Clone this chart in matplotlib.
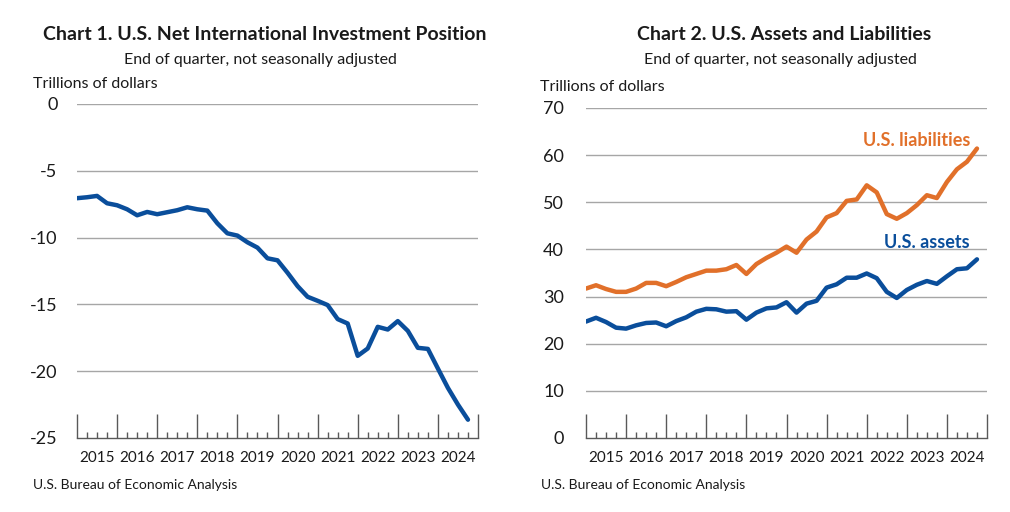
import matplotlib
matplotlib.use("Agg")
import matplotlib.pyplot as plt
import numpy as np

plt.rcParams["font.family"] = ["Lato", "DejaVu Sans"]

# quarterly data, 2015Q1 .. 2024Q4 (trillions of dollars)
years = [str(y) for y in range(2015, 2025)]
niip = [-7.05, -6.98, -6.88, -7.43, -7.58, -7.88, -8.33, -8.08, -8.25, -8.10,
        -7.95, -7.73, -7.88, -7.98, -8.93, -9.68, -9.85, -10.35, -10.75, -11.55,
        -11.70, -12.63, -13.63, -14.43, -14.73, -15.05, -16.10, -16.43, -18.85, -18.30,
        -16.68, -16.88, -16.25, -16.98, -18.25, -18.33, -19.80, -21.25, -22.50, -23.63]
liabilities = [31.7, 32.4, 31.6, 31.0, 31.0, 31.7, 32.9, 32.9, 32.2, 33.1,
               34.1, 34.8, 35.5, 35.5, 35.8, 36.7, 34.8, 36.9, 38.2, 39.3,
               40.6, 39.3, 42.1, 43.8, 46.8, 47.7, 50.3, 50.6, 53.6, 52.1,
               47.5, 46.5, 47.7, 49.4, 51.5, 50.9, 54.3, 57.0, 58.6, 61.4]
assets = [24.7, 25.5, 24.6, 23.4, 23.2, 23.9, 24.4, 24.5, 23.7, 24.8,
          25.6, 26.8, 27.4, 27.3, 26.8, 26.9, 25.1, 26.6, 27.5, 27.7,
          28.8, 26.6, 28.5, 29.1, 31.9, 32.6, 34.0, 34.0, 34.9, 33.9,
          31.0, 29.7, 31.4, 32.5, 33.3, 32.7, 34.3, 35.8, 36.0, 37.9]

BLUE = "#0a4e9b"
ORANGE = "#e1702a"
GRID = "#a6a6a6"
TXT = "#1a1a1a"

W, H = 1010, 512
fig = plt.figure(figsize=(W / 100, H / 100), dpi=100)


def px_axes(x0, y0, x1, y1):
    return fig.add_axes([x0 / W, 1 - y1 / H, (x1 - x0) / W, (y1 - y0) / H])


def style_axis(ax, yticks, ylim, pad):
    q = np.arange(len(niip))
    ax.set_xlim(0, len(q))
    ax.set_ylim(*ylim)
    for s in ["top", "right", "left"]:
        ax.spines[s].set_visible(False)
    ax.spines["bottom"].set_color("#595959")
    ax.spines["bottom"].set_linewidth(1.0)
    ax.set_yticks(yticks)
    ax.tick_params(axis="y", length=0, pad=pad, labelsize=13, labelcolor=TXT)
    for t in yticks[1:]:
        ax.axhline(t, color=GRID, lw=1.0, zorder=1)
    ax.set_xticks(np.arange(0, len(q) + 1, 4))
    ax.set_xticks(np.arange(0, len(q) + 1, 1), minor=True)
    ax.tick_params(axis="x", which="major", direction="in", length=17, width=1,
                   color="#595959", labelbottom=False)
    ax.tick_params(axis="x", which="minor", direction="in", length=4, width=1,
                   color="#595959")
    for i, y in enumerate(years):
        ax.text(4 * i + 2, -0.04, y, transform=ax.get_xaxis_transform(),
                ha="center", va="top", fontsize=11, color=TXT)


# chart 1
ax1 = px_axes(77, 104, 478, 438)
style_axis(ax1, [-25, -20, -15, -10, -5, 0], (-25, 0), 14)
ax1.set_yticklabels(["-25", "-20", "-15", "-10", "-5", "0"])
ax1.plot(np.arange(len(niip)), niip, color=BLUE, lw=3.2, solid_capstyle="round",
         solid_joinstyle="round", zorder=3)

fig.text(265 / W, 1 - 35 / H, "Chart 1. U.S. Net International Investment Position",
         ha="center", va="center", fontsize=14, fontweight="bold", color=TXT)
fig.text(260 / W, 1 - 60 / H, "End of quarter, not seasonally adjusted",
         ha="center", va="center", fontsize=11.5, color=TXT)
fig.text(33 / W, 1 - 84 / H, "Trillions of dollars", ha="left", va="center",
         fontsize=11.5, color=TXT)
fig.text(33 / W, 1 - 485 / H, "U.S. Bureau of Economic Analysis", ha="left",
         va="center", fontsize=10, color=TXT)

# chart 2
ax2 = px_axes(586, 108, 987, 438)
style_axis(ax2, [0, 10, 20, 30, 40, 50, 60, 70], (0, 70), 16)
q = np.arange(len(assets))
ax2.plot(q, liabilities, color=ORANGE, lw=3.2, solid_capstyle="round",
         solid_joinstyle="round", zorder=3)
ax2.plot(q, assets, color=BLUE, lw=3.2, solid_capstyle="round",
         solid_joinstyle="round", zorder=3)
ax2.text(38.3, 63.0, "U.S. liabilities", ha="right", va="center", fontsize=13,
         fontweight="bold", color=ORANGE)
ax2.text(38.3, 41.4, "U.S. assets", ha="right", va="center", fontsize=13,
         fontweight="bold", color=BLUE)

fig.text(784 / W, 1 - 35 / H, "Chart 2. U.S. Assets and Liabilities",
         ha="center", va="center", fontsize=14, fontweight="bold", color=TXT)
fig.text(780 / W, 1 - 60 / H, "End of quarter, not seasonally adjusted",
         ha="center", va="center", fontsize=11.5, color=TXT)
fig.text(540 / W, 1 - 87 / H, "Trillions of dollars", ha="left", va="center",
         fontsize=11.5, color=TXT)
fig.text(541 / W, 1 - 485 / H, "U.S. Bureau of Economic Analysis", ha="left",
         va="center", fontsize=10, color=TXT)

fig.savefig("out.png", dpi=100)
